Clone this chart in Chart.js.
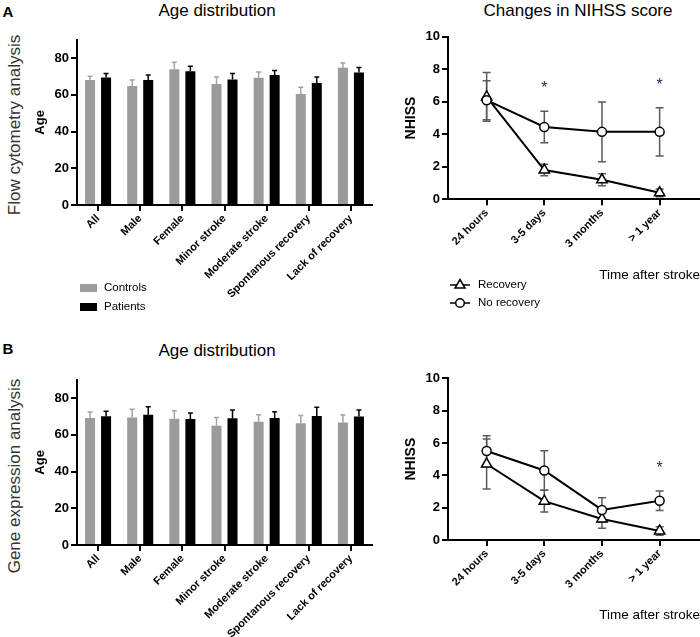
<!DOCTYPE html>
<html>
<head>
<meta charset="utf-8">
<script src="https://cdn.jsdelivr.net/npm/chart.js@4.4.1/dist/chart.umd.min.js"></script>
<style>
  body { margin: 0; background: #fff; font-family: 'Liberation Sans', Arial, sans-serif; }
  #fig { position: relative; width: 700px; height: 637px; overflow: hidden; }
  canvas { position: absolute; }
  .txt { position: absolute; white-space: nowrap; color: #000; line-height: 1; }
  .title { font-size: 17px; transform: translate(-50%, -50%); }
  .panel { font-size: 15px; font-weight: bold; transform: translate(-50%, -50%); }
  .row { font-size: 17px; color: #333; transform: translate(-50%, -50%) rotate(-90deg); }
  .leg { font-size: 11.5px; transform: translateY(-50%); }
  .sw { position: absolute; width: 17px; height: 8px; }
</style>
</head>
<body>
<div id="fig">
  <div class="txt panel" style="left:8px; top:11px;">A</div>
  <div class="txt panel" style="left:8px; top:348px;">B</div>
  <div class="txt row" style="left:14px; top:125px;">Flow cytometry analysis</div>
  <div class="txt row" style="left:14px; top:476px;">Gene expression analysis</div>
  <div class="txt title" style="left:217px; top:10px;">Age distribution</div>
  <div class="txt title" style="left:578px; top:10px;">Changes in NIHSS score</div>
  <div class="txt title" style="left:217px; top:350px;">Age distribution</div>

  <canvas id="barA" width="355" height="285" style="left:20px; top:30px;"></canvas>
  <canvas id="barB" width="355" height="267" style="left:20px; top:370px;"></canvas>
  <canvas id="lineA" width="320" height="264" style="left:380px; top:20px;"></canvas>
  <canvas id="lineB" width="320" height="265" style="left:380px; top:360px;"></canvas>

  <div class="sw" style="left:80px; top:284px; background:#9b9b9b;"></div>
  <div class="txt leg" style="left:104px; top:288px;">Controls</div>
  <div class="sw" style="left:80px; top:303px; background:#000;"></div>
  <div class="txt leg" style="left:104px; top:307px;">Patients</div>

  <svg style="position:absolute; left:449px; top:278px;" width="22" height="14">
    <line x1="1" y1="7" x2="21" y2="7" stroke="#000" stroke-width="1.5"/>
    <polygon points="11,1.5 16,10 6,10" fill="#fff" stroke="#000" stroke-width="1.5"/>
  </svg>
  <div class="txt leg" style="left:478px; top:285px;">Recovery</div>
  <svg style="position:absolute; left:449px; top:296px;" width="22" height="14">
    <line x1="1" y1="7" x2="21" y2="7" stroke="#000" stroke-width="1.5"/>
    <circle cx="11" cy="7" r="4.3" fill="#fff" stroke="#000" stroke-width="1.5"/>
  </svg>
  <div class="txt leg" style="left:478px; top:303px;">No recovery</div>
</div>

<script>
// age bars: mean and upper SD
const groups = ['All', 'Male', 'Female', 'Minor stroke', 'Moderate stroke', 'Spontanous recovery', 'Lack of recovery'];

const controlsA    = [68.1, 64.8, 74.0, 65.9, 69.3, 60.5, 74.8];
const controlsErrA = [2.1, 3.3, 3.8, 3.8, 3.1, 3.6, 2.5];
const patientsA    = [69.5, 68.1, 72.9, 68.4, 70.8, 66.4, 72.2];
const patientsErrA = [2.2, 2.7, 2.7, 3.2, 2.5, 3.4, 2.7];

const controlsB    = [69.2, 69.5, 68.8, 65.0, 67.2, 66.3, 66.7];
const controlsErrB = [3.2, 4.4, 4.3, 4.5, 3.8, 4.3, 4.1];
const patientsB    = [70.2, 71.0, 68.6, 69.0, 69.2, 70.3, 70.0];
const patientsErrB = [2.7, 4.3, 3.3, 4.5, 3.4, 4.8, 3.5];

// NIHSS over time
const timeLabels = ['24 hours', '3-5 days', '3 months', '> 1 year'];

const recoveryA      = [6.3, 1.8, 1.2, 0.4];
const recoveryErrA   = [1.5, 0.35, 0.37, 0.24];
const noRecoveryA    = [6.1, 4.45, 4.15, 4.15];
const noRecoveryErrA = [1.2, 0.97, 1.84, 1.48];
const sigA = [false, true, false, true];

const recoveryB      = [4.7, 2.4, 1.3, 0.56];
const recoveryErrB   = [1.55, 0.67, 0.58, 0.26];
const noRecoveryB    = [5.5, 4.3, 1.86, 2.43];
const noRecoveryErrB = [0.95, 1.22, 0.76, 0.6];
const sigB = [false, false, false, true];

Chart.defaults.font.family = "'Liberation Sans', Arial, sans-serif";
Chart.defaults.color = '#000';

function drawErrors(chart) {
  const ctx = chart.ctx;
  const y = chart.scales.y;
  chart.data.datasets.forEach((ds, i) => {
    if (!ds.errors) return;
    const meta = chart.getDatasetMeta(i);
    ctx.save();
    ctx.strokeStyle = ds.errorColor;
    ctx.lineWidth = 1.5;
    meta.data.forEach((el, j) => {
      const raw = ds.data[j];
      const v = typeof raw === 'object' ? raw.y : raw;
      const e = ds.errors[j];
      const cap = ds.errorCap;
      const top = y.getPixelForValue(v + e);
      const bot = y.getPixelForValue(ds.upOnly ? v : v - e);
      ctx.beginPath();
      ctx.moveTo(el.x, bot);
      ctx.lineTo(el.x, top);
      ctx.moveTo(el.x - cap, top);
      ctx.lineTo(el.x + cap, top);
      if (!ds.upOnly) {
        ctx.moveTo(el.x - cap, bot);
        ctx.lineTo(el.x + cap, bot);
      }
      ctx.stroke();
    });
    ctx.restore();
  });
}

const errorBars = {
  id: 'errorBars',
  beforeDatasetsDraw(chart) {
    if (chart.config.type === 'line') drawErrors(chart);
  },
  afterDatasetsDraw(chart) {
    if (chart.config.type === 'bar') drawErrors(chart);
  }
};

// asterisks above the highest error bar of a time point
const stars = {
  id: 'stars',
  afterDatasetsDraw(chart, args, opts) {
    if (!opts.sig) return;
    const ctx = chart.ctx;
    const { x, y } = chart.scales;
    ctx.save();
    ctx.fillStyle = '#2e2e5c';
    ctx.font = "16px 'Liberation Sans', Arial, sans-serif";
    ctx.textAlign = 'center';
    ctx.textBaseline = 'alphabetic';
    opts.sig.forEach((s, j) => {
      if (!s) return;
      let top = 0;
      chart.data.datasets.forEach(ds => {
        top = Math.max(top, ds.data[j].y + ds.errors[j]);
      });
      ctx.fillText('*', x.getPixelForValue(j), y.getPixelForValue(top + opts.offset) + 9);
    });
    ctx.restore();
  }
};

const axisGrid = { drawOnChartArea: false, tickLength: 6, lineWidth: 2, color: '#000' };
const axisBorder = { color: '#000', width: 2 };

function barChart(id, controls, controlsErr, patients, patientsErr, padTop, xHeight) {
  return new Chart(document.getElementById(id), {
    type: 'bar',
    data: {
      labels: groups,
      datasets: [
        { label: 'Controls', data: controls, backgroundColor: '#9b9b9b',
          errors: controlsErr, errorColor: '#a3a3a3', errorCap: 2.5, upOnly: true,
          barPercentage: 0.625, categoryPercentage: 0.76 },
        { label: 'Patients', data: patients, backgroundColor: '#000',
          errors: patientsErr, errorColor: '#000', errorCap: 2.5, upOnly: true,
          barPercentage: 0.625, categoryPercentage: 0.76 }
      ]
    },
    options: {
      responsive: false,
      animation: false,
      layout: { autoPadding: false, padding: { top: padTop, right: 3, left: 0, bottom: 0 } },
      plugins: { legend: { display: false }, tooltip: { enabled: false } },
      scales: {
        x: {
          grid: Object.assign({ offset: false }, axisGrid),
          border: axisBorder,
          ticks: { autoSkip: false, maxRotation: 45, minRotation: 45, padding: 1,
                   font: { size: 11, weight: 'bold' } },
          afterFit(scale) {
            scale.height = xHeight;
            scale.paddingLeft = 0;
            scale.paddingRight = 0;
          }
        },
        y: {
          min: 0, max: 90,
          grid: axisGrid,
          border: axisBorder,
          ticks: { stepSize: 20, includeBounds: false, padding: 2,
                   font: { size: 13, weight: 'bold' } },
          title: { display: true, text: 'Age', font: { size: 13, weight: 'bold' },
                   padding: { top: 13, bottom: 0 } },
          afterFit(scale) { scale.width = 57; }
        }
      }
    },
    plugins: [errorBars]
  });
}

function nihssChart(id, rec, recErr, noRec, noRecErr, sig, padTop, xHeight, titleBottom) {
  const pts = arr => arr.map((v, i) => ({ x: i, y: v }));
  return new Chart(document.getElementById(id), {
    type: 'line',
    data: {
      datasets: [
        { label: 'No recovery', data: pts(noRec), errors: noRecErr,
          borderColor: '#000', borderWidth: 2, backgroundColor: '#fff',
          pointStyle: 'circle', pointRadius: 4.5, pointBorderWidth: 1.5,
          errorColor: '#5a5a5a', errorCap: 4 },
        { label: 'Recovery', data: pts(rec), errors: recErr,
          borderColor: '#000', borderWidth: 2, backgroundColor: '#fff',
          pointStyle: 'triangle', pointRadius: 6, pointBorderWidth: 1.5,
          errorColor: '#5a5a5a', errorCap: 4 }
      ]
    },
    options: {
      responsive: false,
      animation: false,
      layout: { autoPadding: false, padding: { top: padTop, right: 0, left: 0, bottom: 0 } },
      plugins: {
        legend: { display: false },
        tooltip: { enabled: false },
        stars: { sig: sig, offset: 1.65 }
      },
      scales: {
        x: {
          type: 'linear', min: -0.67, max: 3.7,
          grid: axisGrid,
          border: axisBorder,
          afterBuildTicks(scale) { scale.ticks = timeLabels.map((t, i) => ({ value: i })); },
          ticks: { autoSkip: false, maxRotation: 45, minRotation: 45, padding: 1,
                   font: { size: 11, weight: 'bold' },
                   callback: v => timeLabels[v] },
          title: { display: true, text: 'Time after stroke', align: 'end',
                   font: { size: 13.5 }, padding: { top: 0, bottom: titleBottom } },
          afterFit(scale) {
            scale.height = xHeight;
            scale.paddingLeft = 0;
            scale.paddingRight = 0;
          }
        },
        y: {
          min: 0, max: 10,
          grid: axisGrid,
          border: axisBorder,
          ticks: { stepSize: 2, padding: 2, font: { size: 13, weight: 'bold' } },
          title: { display: true, text: 'NHISS', font: { size: 14, weight: 'bold' },
                   padding: { top: 23, bottom: 0 } },
          afterFit(scale) { scale.width = 68; }
        }
      }
    },
    plugins: [errorBars, stars]
  });
}

barChart('barA', controlsA, controlsErrA, patientsA, patientsErrA, 8.8, 110);
barChart('barB', controlsB, controlsErrB, patientsB, patientsErrB, 8.8, 92);
nihssChart('lineA', recoveryA, recoveryErrA, noRecoveryA, noRecoveryErrA, sigA, 16.8, 84.7, 0.9);
nihssChart('lineB', recoveryB, recoveryErrB, noRecoveryB, noRecoveryErrB, sigB, 18.3, 85, 1.9);
</script>
</body>
</html>
